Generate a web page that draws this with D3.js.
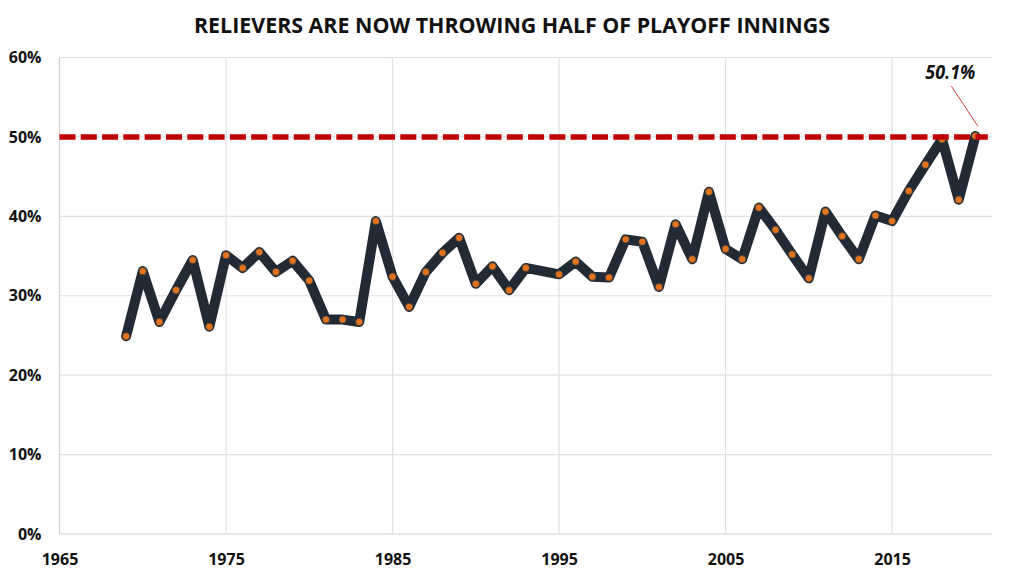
<!DOCTYPE html>
<html>
<head>
<meta charset="utf-8">
<script src="https://cdn.jsdelivr.net/npm/d3@7"></script>
<style>
  body { margin: 0; background: #fff; }
  text { font-family: "Open Sans", "Liberation Sans", sans-serif; }
</style>
</head>
<body>
<div class="chart"></div>
<script>
// data (1994 had no postseason)
var years = [1969, 1970, 1971, 1972, 1973, 1974, 1975, 1976, 1977, 1978, 1979,
  1980, 1981, 1982, 1983, 1984, 1985, 1986, 1987, 1988, 1989,
  1990, 1991, 1992, 1993, 1995, 1996, 1997, 1998, 1999,
  2000, 2001, 2002, 2003, 2004, 2005, 2006, 2007, 2008, 2009,
  2010, 2011, 2012, 2013, 2014, 2015, 2016, 2017, 2018, 2019, 2020];
var reliefShare = [24.9, 33.1, 26.7, 30.7, 34.5, 26.1, 35.1, 33.5, 35.5, 33.0, 34.4,
  31.9, 27.0, 27.0, 26.7, 39.4, 32.4, 28.6, 33.0, 35.4, 37.3,
  31.5, 33.7, 30.7, 33.5, 32.7, 34.3, 32.4, 32.3, 37.1,
  36.8, 31.1, 39.0, 34.6, 43.1, 35.9, 34.6, 41.1, 38.3, 35.2,
  32.2, 40.6, 37.5, 34.6, 40.1, 39.4, 43.2, 46.5, 49.7, 42.1, 50.1];
var xTicks = [1965, 1975, 1985, 1995, 2005, 2015];
var yTicks = [0, 10, 20, 30, 40, 50, 60];
var threshold = 50;
var title = "RELIEVERS ARE NOW THROWING HALF OF PLAYOFF INNINGS";
var callout = "50.1%";

var svgWidth = 1024;
var svgHeight = 576;
var margin = { top: 57.5, right: 32, bottom: 42, left: 59.5 };
var width = svgWidth - margin.left - margin.right;
var height = svgHeight - margin.top - margin.bottom;

var data = years.map(function(y, i) { return { year: y, value: reliefShare[i] }; });

var svg = d3.select(".chart")
  .append("svg")
  .attr("width", svgWidth)
  .attr("height", svgHeight);

svg.append("text")
  .attr("x", svgWidth / 2 + 0)
  .attr("y", 33)
  .attr("text-anchor", "middle")
  .attr("font-size", "22px")
  .attr("font-weight", "bold")
  .attr("fill", "#111")
  .attr("textLength", 636)
  .attr("lengthAdjust", "spacingAndGlyphs")
  .text(title);

var chartGroup = svg.append("g")
  .attr("transform", `translate(${margin.left}, ${margin.top})`);

var x = d3.scaleLinear().domain([1965, 2021]).range([0, width]);
var y = d3.scaleLinear().domain([0, 60]).range([height, 0]);

// gridlines
chartGroup.append("g")
  .selectAll("line")
  .data(yTicks)
  .enter()
  .append("line")
  .attr("x1", 0)
  .attr("x2", width)
  .attr("y1", d => y(d))
  .attr("y2", d => y(d))
  .attr("stroke", d => d === 0 ? "#cfcfcf" : "#e0e0e0")
  .attr("stroke-width", 1.2);

chartGroup.append("g")
  .selectAll("line")
  .data(xTicks)
  .enter()
  .append("line")
  .attr("x1", d => x(d))
  .attr("x2", d => x(d))
  .attr("y1", 0)
  .attr("y2", height)
  .attr("stroke", d => d === 1965 ? "#cfcfcf" : "#e0e0e0")
  .attr("stroke-width", 1.2);

// axes (labels only)
var leftAxis = d3.axisLeft(y).tickValues(yTicks).tickFormat(d => d + "%").tickSize(0).tickPadding(18);
var bottomAxis = d3.axisBottom(x).tickValues(xTicks).tickFormat(d3.format("d")).tickSize(0).tickPadding(20);

var yAxisG = chartGroup.append("g").call(leftAxis);
var xAxisG = chartGroup.append("g")
  .attr("transform", `translate(0, ${height})`)
  .call(bottomAxis);

[yAxisG, xAxisG].forEach(function(g) {
  g.select(".domain").remove();
  g.selectAll("text")
    .attr("font-family", "'Open Sans', 'Liberation Sans', sans-serif")
    .attr("font-size", "16px")
    .attr("font-weight", "bold")
    .attr("fill", "#111");
});

// series line
var line = d3.line()
  .x(d => x(d.year))
  .y(d => y(d.value));

chartGroup.append("path")
  .datum(data)
  .attr("fill", "none")
  .attr("stroke", "#222a35")
  .attr("stroke-width", 10)
  .attr("stroke-linejoin", "round")
  .attr("stroke-linecap", "round")
  .attr("d", line);

chartGroup.selectAll(".dot")
  .data(data)
  .enter()
  .append("circle")
  .attr("class", "dot")
  .attr("cx", d => x(d.year))
  .attr("cy", d => y(d.value))
  .attr("r", 3.6)
  .attr("fill", "#e0731f")
  .attr("stroke", "#3a3a3a")
  .attr("stroke-width", 0.6);

// 50% reference line
chartGroup.append("line")
  .attr("x1", 0)
  .attr("x2", x(2020.75))
  .attr("y1", y(threshold))
  .attr("y2", y(threshold))
  .attr("stroke", "#c00000")
  .attr("stroke-width", 5.5)
  .attr("stroke-dasharray", "16,5.3");

// callout
var last = data[data.length - 1];
chartGroup.append("line")
  .attr("x1", x(last.year) - 24)
  .attr("y1", y(last.value) - 50)
  .attr("x2", x(last.year) + 2.5)
  .attr("y2", y(last.value) - 10)
  .attr("stroke", "#d04040")
  .attr("stroke-width", 1);

chartGroup.append("text")
  .attr("x", x(last.year) - 25)
  .attr("y", y(last.value) - 57)
  .attr("text-anchor", "middle")
  .attr("font-size", "20px")
  .attr("font-weight", "bold")
  .attr("font-style", "italic")
  .attr("fill", "#111")
  .attr("textLength", 50)
  .attr("lengthAdjust", "spacingAndGlyphs")
  .text(callout);
</script>
</body>
</html>
